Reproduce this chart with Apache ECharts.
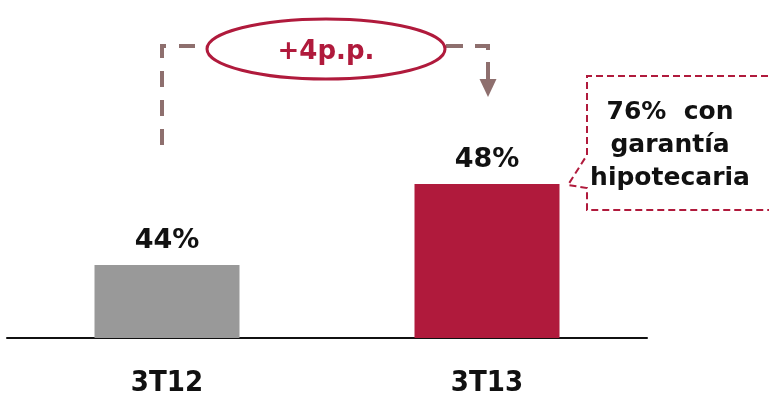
<!DOCTYPE html>
<html>
<head>
<meta charset="utf-8">
<style>
  html, body { margin: 0; padding: 0; background: #ffffff; }
  #chart { width: 769px; height: 398px; }
</style>
<script src="https://cdn.jsdelivr.net/npm/echarts@6/dist/echarts.min.js"></script>
</head>
<body>
<div id="chart"></div>
<script>
// Quarterly share of the portfolio (percent)
const categories = ['3T12', '3T13'];
const shareValues = [44, 48];
const barColors = ['#999999', '#B01A3C'];
const changeLabel = '+4p.p.';
const noteLines = ['76%  con', 'garantía', 'hipotecaria'];

const chart = echarts.init(document.getElementById('chart'), null, { renderer: 'canvas' });

const bracketColor = '#8E6F6E';
const crimson = '#B01A3C';

chart.setOption({
  animation: false,
  grid: { left: 7, right: 122, top: 30, bottom: 58 },
  xAxis: {
    type: 'category',
    data: categories,
    axisTick: { show: false },
    axisLine: { show: true, lineStyle: { color: '#111111', width: 2 } },
    axisLabel: {
      margin: 31,
      color: '#111111',
      fontFamily: 'DejaVu Sans Condensed',
      fontWeight: 'bold',
      fontSize: 29
    }
  },
  yAxis: {
    type: 'value',
    min: 40.4,
    max: 55.6,
    show: false,
    splitLine: { show: false }
  },
  series: [{
    type: 'bar',
    barWidth: 145,
    data: shareValues.map((v, i) => ({ value: v, itemStyle: { color: barColors[i] } })),
    label: {
      show: true,
      position: 'top',
      distance: 11,
      formatter: p => p.value + '%',
      color: '#111111',
      fontFamily: 'DejaVu Sans',
      fontWeight: 'bold',
      fontSize: 27
    }
  }],
  graphic: [
    // dashed bracket from the first bar up and over to the second
    {
      type: 'polyline',
      shape: { points: [[195, 46], [162, 46], [162, 148]] },
      style: { stroke: bracketColor, lineWidth: 4, lineDash: [16, 13], fill: null }
    },
    {
      type: 'polyline',
      shape: { points: [[446, 46], [488, 46], [488, 80]] },
      style: { stroke: bracketColor, lineWidth: 4, lineDash: [17, 12], fill: null }
    },
    {
      type: 'polygon',
      shape: { points: [[479.5, 79], [496.5, 79], [488, 97]] },
      style: { fill: bracketColor }
    },
    // oval with the change in percentage points
    {
      type: 'ellipse',
      shape: { cx: 326, cy: 49, rx: 119, ry: 30 },
      style: { stroke: crimson, lineWidth: 3, fill: '#ffffff' }
    },
    {
      type: 'text',
      x: 326, y: 52,
      style: {
        text: changeLabel,
        fill: crimson,
        font: 'bold 26px "DejaVu Sans"',
        textAlign: 'center',
        textVerticalAlign: 'middle'
      }
    },
    // dashed callout box pointing at the second bar
    {
      type: 'polyline',
      shape: { points: [[790, 76], [587, 76], [587, 155], [568, 185], [587, 188], [587, 210], [790, 210]] },
      style: { stroke: crimson, lineWidth: 2, lineDash: [7, 4], fill: null }
    },
    {
      type: 'text',
      x: 670, y: 145,
      style: {
        text: noteLines.join('\n'),
        fill: '#111111',
        font: 'bold 25px "DejaVu Sans"',
        lineHeight: 33,
        textAlign: 'center',
        textVerticalAlign: 'middle'
      }
    }
  ]
});
</script>
</body>
</html>
